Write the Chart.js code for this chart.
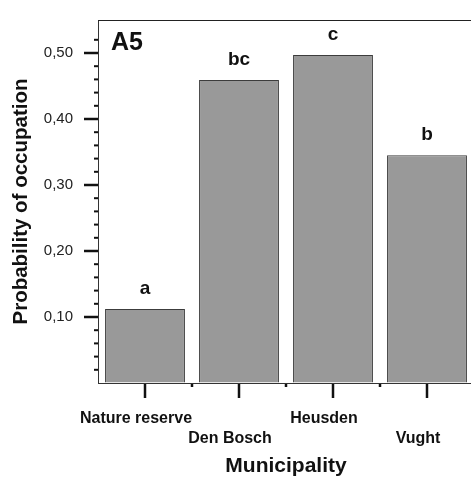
<!DOCTYPE html>
<html lang="en">
<head>
  <meta charset="UTF-8">
  <title>A5 - Probability of occupation by municipality</title>
  <script src="https://cdn.jsdelivr.net/npm/chart.js"></script>
  <style>
    html, body {
      margin: 0;
      padding: 0;
      background: #fff;
      overflow: hidden;
    }
  </style>
</head>
<body>
  <canvas id="occupationChart" width="476" height="484"></canvas>

  <script>
    // Data
    const categories = ['Nature reserve', 'Den Bosch', 'Heusden', 'Vught'];
    const values = [0.112, 0.459, 0.497, 0.345];
    const letters = ['a', 'bc', 'c', 'b']; // significance groups above bars
    const yTicks = [0.1, 0.2, 0.3, 0.4, 0.5];
    const yTickLabels = ['0,10', '0,20', '0,30', '0,40', '0,50'];

    const FONT = "'Liberation Sans', Arial, Helvetica, sans-serif";

    // Frame line on top, tick marks, group letters and panel label
    const decorations = {
      id: 'decorations',
      afterDraw(chart) {
        const ctx = chart.ctx;
        const area = chart.chartArea;
        const xs = chart.scales.x;
        const ys = chart.scales.y;
        ctx.save();

        // top border
        ctx.strokeStyle = '#222';
        ctx.lineWidth = 1;
        ctx.beginPath();
        ctx.moveTo(area.left, area.top + 0.5);
        ctx.lineTo(area.right + 5, area.top + 0.5);
        ctx.stroke();

        // y tick marks: long at labelled values, short every 0.02
        ctx.strokeStyle = '#111';
        ys.ticks.forEach(t => {
          const k = t.value / 0.02;
          if (t.value <= 0 || Math.abs(k - Math.round(k)) > 1e-6) return;
          const major = yTicks.some(v => Math.abs(v - t.value) < 1e-6);
          const py = ys.getPixelForValue(t.value);
          ctx.lineWidth = major ? 2.5 : 2;
          ctx.beginPath();
          ctx.moveTo(area.left - (major ? 14 : 4), py);
          ctx.lineTo(area.left, py);
          ctx.stroke();
        });

        // x tick marks: long at bar centres, short at category boundaries
        ctx.lineWidth = 2.5;
        categories.forEach((c, i) => {
          const px = xs.getPixelForValue(i);
          ctx.beginPath();
          ctx.moveTo(px, area.bottom + 1);
          ctx.lineTo(px, area.bottom + 15);
          ctx.stroke();
          if (i < categories.length - 1) {
            const bx = (px + xs.getPixelForValue(i + 1)) / 2;
            ctx.beginPath();
            ctx.moveTo(bx, area.bottom + 1);
            ctx.lineTo(bx, area.bottom + 4);
            ctx.stroke();
          }
        });

        // letters above the bars
        ctx.fillStyle = '#111';
        ctx.font = 'bold 19px ' + FONT;
        ctx.textAlign = 'center';
        ctx.textBaseline = 'alphabetic';
        chart.getDatasetMeta(0).data.forEach((bar, i) => {
          ctx.fillText(letters[i], bar.x, bar.y - 15);
        });

        // panel label
        ctx.font = 'bold 25px ' + FONT;
        ctx.textAlign = 'left';
        ctx.fillText('A5', area.left + 13, area.top + 30);

        ctx.restore();
      }
    };

    const config = {
      type: 'bar',
      data: {
        labels: categories,
        datasets: [{
          data: values,
          backgroundColor: '#999999',
          borderColor: '#3c3c3c',
          borderWidth: 1,
          barPercentage: 0.85,
          categoryPercentage: 1,
        }],
      },
      options: {
        responsive: false,
        devicePixelRatio: 1,
        animation: false,
        layout: {
          padding: { top: 7, right: 2, left: 0, bottom: 0 },
        },
        plugins: {
          legend: { display: false },
          tooltip: { enabled: false },
        },
        scales: {
          x: {
            grid: {
              drawOnChartArea: false,
              tickLength: 13,
              tickColor: 'rgba(0,0,0,0)',
            },
            border: { color: '#333', width: 1 },
            ticks: {
              color: '#111',
              padding: 13,
              labelOffset: -9,
              maxRotation: 0,
              autoSkip: false,
              font: { family: FONT, size: 16, weight: 'bold', lineHeight: 1.25 },
              // alternate the labels on two rows
              callback: (value, i) => (i % 2 ? ['', categories[i]] : [categories[i], '']),
            },
            title: {
              display: true,
              text: 'Municipality',
              color: '#111',
              font: { family: FONT, size: 21, weight: 'bold' },
              padding: { top: 4, bottom: 5 },
            },
            afterFit: (scale) => { scale.height = 101; },
          },
          y: {
            min: 0,
            max: 0.55,
            grid: {
              drawOnChartArea: false,
              tickLength: 14,
              tickColor: 'rgba(0,0,0,0)',
            },
            border: { color: '#333', width: 1 },
            ticks: {
              stepSize: 0.02,
              autoSkip: false,
              color: '#222',
              padding: 11,
              font: { family: FONT, size: 15 },
              callback: (value) => {
                const i = yTicks.findIndex(v => Math.abs(v - value) < 1e-6);
                return i >= 0 ? yTickLabels[i] : '';
              },
            },
            title: {
              display: true,
              text: 'Probability of occupation',
              color: '#111',
              font: { family: FONT, size: 20.5, weight: 'bold' },
              padding: { top: 9, bottom: 0 },
            },
            afterFit: (scale) => { scale.width = 98; },
          },
        },
      },
      plugins: [decorations],
    };

    const ctx = document.getElementById('occupationChart').getContext('2d');
    const chart = new Chart(ctx, config);
  </script>
</body>
</html>
